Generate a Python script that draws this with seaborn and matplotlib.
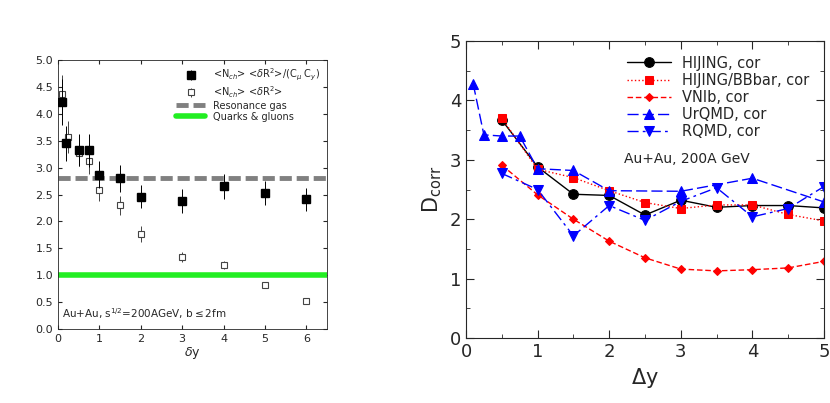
import numpy as np
import pandas as pd
import seaborn as sns
import matplotlib.pyplot as plt

# === Data: left panel ===
dy_filled = [0.1, 0.2, 0.5, 0.75, 1, 1.5, 2, 3, 4, 5, 6]
val_filled = [4.22, 3.45, 3.33, 3.32, 2.87, 2.80, 2.46, 2.38, 2.65, 2.53, 2.41]
err_filled = [0.42, 0.32, 0.3, 0.3, 0.25, 0.25, 0.22, 0.22, 0.23, 0.23, 0.22]
dy_open = [0.1, 0.25, 0.5, 0.75, 1, 1.5, 2, 3, 4, 5, 6]
val_open = [4.37, 3.57, 3.28, 3.13, 2.59, 2.30, 1.77, 1.34, 1.19, 0.81, 0.52]
err_open = [0.35, 0.3, 0.25, 0.25, 0.22, 0.18, 0.15, 0.1, 0.08, 0.05, 0.05]
resonance_gas = 2.8
quarks_gluons = 1.0

# === Data: right panel ===
x_half = [0.5, 1, 1.5, 2, 2.5, 3, 3.5, 4, 4.5, 5]
hijing = [3.67, 2.88, 2.42, 2.40, 2.07, 2.32, 2.20, 2.23, 2.23, 2.19]
bbbar = [3.70, 2.84, 2.70, 2.48, 2.28, 2.18, 2.24, 2.24, 2.08, 1.97]
vnib = [2.91, 2.41, 2.00, 1.63, 1.35, 1.16, 1.13, 1.15, 1.18, 1.29]
rqmd = [2.77, 2.50, 1.72, 2.23, 1.98, 2.30, 2.53, 2.04, 2.18, 2.55]
x_urqmd = [0.1, 0.25, 0.5, 0.75, 1, 1.5, 2, 3, 4, 5]
urqmd = [4.28, 3.42, 3.40, 3.40, 2.85, 2.82, 2.48, 2.47, 2.69, 2.29]

sns.set_style("ticks")
plt.rcParams['font.family'] = ['DejaVu Sans']

fig = plt.figure(figsize=(8.3, 4.03), dpi=100)
ax1 = fig.add_axes([58 / 830, 1 - 329 / 403, 269 / 830, 269 / 403])
ax2 = fig.add_axes([466 / 830, 1 - 338 / 403, 358 / 830, 297 / 403])

# --- Left panel ---
ax1.axhline(resonance_gas, color='#808080', lw=3.5, ls=(0, (2.5, 1)), label='Resonance gas', zorder=1)
ax1.axhline(quarks_gluons, color='#22ee22', lw=4, label='Quarks & gluons', zorder=1)
ax1.errorbar(dy_open, val_open, yerr=err_open, fmt='s', ms=5, mfc='white', mec='#444444',
             mew=0.8, ecolor='#444444', elinewidth=0.7, capsize=0, label=r'<N$_{ch}$> <$\delta$R$^2$>', zorder=3)
ax1.errorbar(dy_filled, val_filled, yerr=err_filled, fmt='s', ms=5.5, color='black',
             elinewidth=0.7, capsize=0, label=r'<N$_{ch}$> <$\delta$R$^2$>/(C$_\mu$ C$_y$)', zorder=4)
ax1.set_xlim(0, 6.5)
ax1.set_ylim(0, 5)
ax1.set_yticks(np.arange(0, 5.01, 0.5))
ax1.set_yticklabels([f"{v:.1f}" for v in np.arange(0, 5.01, 0.5)])
ax1.set_xticks(range(0, 7))
ax1.tick_params(labelsize=8, direction='in', length=3, top=True, right=True)
ax1.set_xlabel(r'$\delta$y', fontsize=9, labelpad=1)
h, l = ax1.get_legend_handles_labels()
ax1.legend([h[3], h[2], h[0], h[1]], [l[3], l[2], l[0], l[1]], loc='upper right',
           fontsize=7, frameon=False, handlelength=3, labelspacing=0.1, borderaxespad=0.3)
ax1.text(0.1, 0.2, r'Au+Au, s$^{1/2}$=200AGeV, b$\leq$2fm', fontsize=7.5)
for s in ax1.spines.values():
    s.set_linewidth(0.6)

# --- Right panel ---
df_h = pd.DataFrame({'x': x_half, 'y': hijing})
sns.lineplot(data=df_h, x='x', y='y', ax=ax2, color='black', lw=1, marker='o', ms=7,
             mec='black', label='HIJING, cor')
sns.lineplot(x=x_half, y=bbbar, ax=ax2, color='red', lw=1, ls=':', marker='s', ms=6,
             mec='red', label='HIJING/BBbar, cor')
sns.lineplot(x=x_half, y=vnib, ax=ax2, color='red', lw=1, ls=(0, (4, 2)), marker='D', ms=4.5,
             mec='red', label='VNIb, cor')
sns.lineplot(x=x_urqmd, y=urqmd, ax=ax2, color='blue', lw=1, ls=(0, (8, 3)), marker='^', ms=7,
             mec='blue', label='UrQMD, cor')
sns.lineplot(x=x_half, y=rqmd, ax=ax2, color='blue', lw=1, ls=(0, (8, 3, 2, 3)), marker='v', ms=7,
             mec='blue', label='RQMD, cor')
ax2.set_xlim(0, 5)
ax2.set_ylim(0, 5)
ax2.set_xticks(range(0, 6))
ax2.set_yticks(range(0, 6))
ax2.set_xticks(np.arange(0, 5.01, 0.5), minor=True)
ax2.set_yticks(np.arange(0, 5.01, 0.5), minor=True)
ax2.tick_params(labelsize=13, direction='in', length=6, top=True, right=True)
ax2.tick_params(which='minor', direction='in', length=3, top=True, right=True)
ax2.set_xlabel(r'$\Delta$y', fontsize=15)
ax2.set_ylabel(r'D$_{\rm corr}$', fontsize=15)
ax2.legend(loc='upper right', fontsize=10.5, frameon=False, handlelength=3,
           labelspacing=0.15, borderaxespad=0.6)
ax2.text(2.2, 2.95, 'Au+Au, 200A GeV', fontsize=10)
for s in ax2.spines.values():
    s.set_linewidth(0.8)

fig.savefig('out.png', dpi=100)
